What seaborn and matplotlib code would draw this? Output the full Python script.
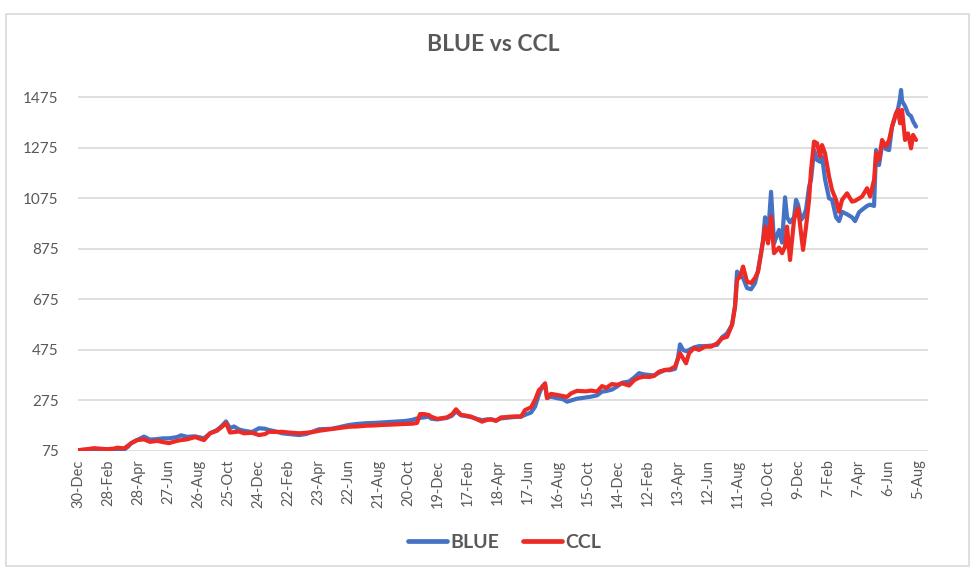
import matplotlib
matplotlib.use("Agg")
import matplotlib.pyplot as plt
import seaborn as sns
import pandas as pd
import numpy as np
from matplotlib.patches import Rectangle
from matplotlib.lines import Line2D

# ---------------- data ----------------
dates = [
    "2019-12-30", "2020-01-17", "2020-01-31", "2020-02-14", "2020-02-26", "2020-03-10",
    "2020-03-18", "2020-03-31", "2020-04-08", "2020-04-14", "2020-04-26", "2020-05-10",
    "2020-05-22", "2020-06-05", "2020-06-17", "2020-06-29", "2020-07-15", "2020-07-23",
    "2020-08-04", "2020-08-20", "2020-09-07", "2020-09-19", "2020-10-03", "2020-10-13",
    "2020-10-21", "2020-10-29", "2020-11-06", "2020-11-16", "2020-11-26", "2020-12-12",
    "2020-12-26", "2021-01-07", "2021-01-15", "2021-01-29", "2021-02-10", "2021-02-24",
    "2021-03-16", "2021-03-30", "2021-04-13", "2021-04-25", "2021-05-21", "2021-06-06",
    "2021-06-24", "2021-07-10", "2021-07-28", "2021-08-13", "2021-08-29", "2021-09-12",
    "2021-10-02", "2021-10-16", "2021-10-28", "2021-11-07", "2021-11-13", "2021-11-21",
    "2021-12-01", "2021-12-05", "2021-12-17", "2021-12-27", "2022-01-06", "2022-01-16",
    "2022-01-24", "2022-02-03", "2022-02-13", "2022-02-23", "2022-03-07", "2022-03-17",
    "2022-03-27", "2022-04-04", "2022-04-14", "2022-04-24", "2022-05-04", "2022-05-14",
    "2022-05-24", "2022-06-03", "2022-06-11", "2022-06-23", "2022-07-01", "2022-07-09",
    "2022-07-15", "2022-07-21", "2022-07-25", "2022-08-02", "2022-08-14", "2022-08-26",
    "2022-09-03", "2022-09-11", "2022-09-23", "2022-10-01", "2022-10-11", "2022-10-21",
    "2022-11-02", "2022-11-12", "2022-11-20", "2022-12-02", "2022-12-12", "2022-12-22",
    "2023-01-05", "2023-01-15", "2023-01-25", "2023-02-04", "2023-02-14", "2023-02-24",
    "2023-03-06", "2023-03-18", "2023-03-28", "2023-04-07", "2023-04-13", "2023-04-17",
    "2023-04-23", "2023-04-29", "2023-05-05", "2023-05-15", "2023-05-25", "2023-06-06",
    "2023-06-18", "2023-06-30", "2023-07-10", "2023-07-20", "2023-07-30", "2023-08-05",
    "2023-08-09", "2023-08-15", "2023-08-21", "2023-08-29", "2023-09-06", "2023-09-14",
    "2023-09-20", "2023-09-26", "2023-09-30", "2023-10-04", "2023-10-10", "2023-10-16",
    "2023-10-22", "2023-10-28", "2023-11-01", "2023-11-07", "2023-11-13", "2023-11-17",
    "2023-11-23", "2023-12-01", "2023-12-05", "2023-12-09", "2023-12-15", "2023-12-19",
    "2023-12-25", "2023-12-31", "2024-01-04", "2024-01-10", "2024-01-16", "2024-01-22",
    "2024-01-26", "2024-02-01", "2024-02-09", "2024-02-15", "2024-02-23", "2024-02-29",
    "2024-03-06", "2024-03-16", "2024-03-26", "2024-04-01", "2024-04-09", "2024-04-15",
    "2024-04-25", "2024-05-01", "2024-05-09", "2024-05-13", "2024-05-19", "2024-05-25",
    "2024-06-02", "2024-06-08", "2024-06-14", "2024-06-22", "2024-06-26", "2024-06-30",
    "2024-07-02", "2024-07-04", "2024-07-10", "2024-07-16", "2024-07-22", "2024-07-26",
    "2024-08-01",
]

blue = [
    78, 80, 82, 81, 80, 80,
    79, 80, 92, 106, 118, 132,
    120, 122, 125, 125, 130, 137,
    131, 133, 125, 145, 158, 175,
    192, 165, 172, 160, 155, 150,
    165, 163, 158, 152, 145, 142,
    138, 142, 152, 161, 163, 170,
    178, 182, 185, 186, 188, 190,
    192, 194, 198, 204, 206, 208,
    211, 203, 200, 203, 206, 215,
    232, 216, 213, 209, 202, 197,
    200, 200, 196, 204, 206, 208,
    210, 211, 218, 227, 250, 300,
    330, 340, 285, 290, 284, 280,
    270, 275, 282, 284, 287, 290,
    295, 310, 312, 318, 330, 345,
    350, 365, 383, 378, 376, 374,
    385, 395, 395, 400, 445, 497,
    475, 470, 475, 485, 490, 490,
    492, 495, 525, 540, 575, 650,
    785, 770, 760, 720, 715, 740,
    790, 860, 910, 1000, 930, 1101,
    897, 930, 950, 900, 1079, 1000,
    980, 1000, 1069, 1050, 990, 1000,
    1030, 1121, 1150, 1266, 1227, 1220,
    1240, 1150, 1075, 1070, 1000, 985,
    1022, 1012, 1000, 985, 1020, 1030,
    1045, 1050, 1045, 1266, 1207, 1286,
    1270, 1266, 1359, 1410, 1430, 1470,
    1504, 1460, 1440, 1410, 1400, 1380,
    1359,
]

ccl = [
    78, 82, 86, 84, 82, 84,
    88, 85, 96, 105, 118, 121,
    111, 115, 110, 106, 115, 118,
    121, 130, 118, 145, 155, 171,
    185, 148, 150, 152, 145, 147,
    138, 142, 151, 150, 151, 148,
    145, 147, 150, 155, 162, 166,
    171, 172, 175, 176, 178, 179,
    181, 182, 183, 186, 221, 221,
    217, 211, 202, 205, 208, 220,
    240, 218, 215, 211, 200, 191,
    198, 200, 194, 208, 209, 211,
    212, 211, 237, 248, 277, 317,
    325, 343, 284, 301, 297, 292,
    289, 303, 313, 312, 311, 314,
    310, 332, 325, 340, 337, 343,
    334, 355, 365, 369, 368, 372,
    389, 396, 398, 409, 440, 462,
    442, 422, 462, 482, 475, 488,
    488, 501, 521, 527, 574, 646,
    752, 765, 805, 745, 740, 760,
    785, 858, 904, 963, 897, 1003,
    858, 871, 880, 858, 884, 963,
    831, 990, 1020, 1036, 937, 871,
    963, 1069, 1187, 1300, 1293, 1240,
    1286, 1253, 1161, 1108, 1069, 1022,
    1069, 1095, 1062, 1065, 1075, 1082,
    1115, 1082, 1148, 1253, 1227, 1306,
    1280, 1306, 1359, 1412, 1425, 1372,
    1400, 1425, 1306, 1332, 1273, 1326,
    1306,
]

series_names = ["BLUE", "CCL"]
y_ticks = [75, 275, 475, 675, 875, 1075, 1275, 1475]
x_tick_labels = [
    "30-Dec", "28-Feb", "28-Apr", "27-Jun", "26-Aug", "25-Oct", "24-Dec", "22-Feb",
    "23-Apr", "22-Jun", "21-Aug", "20-Oct", "19-Dec", "17-Feb", "18-Apr", "17-Jun",
    "16-Aug", "15-Oct", "14-Dec", "12-Feb", "13-Apr", "12-Jun", "11-Aug", "10-Oct",
    "9-Dec", "7-Feb", "7-Apr", "6-Jun", "5-Aug",
]
title = "BLUE vs CCL"

# ---------------- build table ----------------
dt = pd.to_datetime(dates)
df = pd.concat([
    pd.DataFrame({"date": dt, "value": blue, "serie": series_names[0]}),
    pd.DataFrame({"date": dt, "value": ccl, "serie": series_names[1]}),
], ignore_index=True)

# ---------------- style ----------------
sns.set_theme(style="white")
plt.rcParams["font.family"] = ["Lato", "DejaVu Sans"]
TXT = "#595959"
GRID = "#D9D9D9"
palette = {"BLUE": "#4472C4", "CCL": "#EE2A24"}

fig = plt.figure(figsize=(9.8, 5.75), dpi=100)
ax = fig.add_axes([0.0796, 0.2157, 0.8674, 0.6590])

sns.lineplot(data=df, x="date", y="value", hue="serie", hue_order=series_names,
             palette=palette, estimator=None, linewidth=3.0, ax=ax, legend=False)

# axes ranges
x0 = pd.Timestamp("2019-12-30")
ax.set_xlim(x0, pd.Timestamp("2024-08-25"))
ax.set_ylim(75, 1575)

tick_dates = pd.date_range(x0, periods=len(x_tick_labels), freq="60D")
ax.set_xticks(tick_dates)
ax.set_xticklabels(x_tick_labels, rotation=90, fontsize=10.5, color=TXT)
ax.set_yticks(y_ticks)
ax.set_yticklabels([str(v) for v in y_ticks], fontsize=11, color=TXT)
ax.tick_params(axis="both", length=0, pad=6)
ax.tick_params(axis="y", pad=14)
ax.set_xlabel("")
ax.set_ylabel("")

for s in ax.spines.values():
    s.set_visible(False)
ax.grid(axis="y", color=GRID, linewidth=1.2)
ax.grid(axis="x", visible=False)
ax.set_axisbelow(True)

# title
fig.text(0.503, 0.922, title, ha="center", va="center", fontsize=16.5,
         fontweight="bold", color=TXT)

# legend
handles = [Line2D([0], [0], color=palette[n], linewidth=3.4) for n in series_names]
leg = fig.legend(handles, series_names, loc="center", bbox_to_anchor=(0.515, 0.056),
                 ncol=2, frameon=False, handlelength=2.0, columnspacing=1.2,
                 handletextpad=0.2,
                 prop={"weight": "bold", "size": 14})
for t in leg.get_texts():
    t.set_color(TXT)

# chart border
fig.patches.append(Rectangle((6 / 980, 1 - 566 / 575), 963 / 980, 552 / 575,
                             transform=fig.transFigure, fill=False,
                             edgecolor="#D9D9D9", linewidth=1.2))

fig.savefig("out.png", dpi=100, facecolor="white")
